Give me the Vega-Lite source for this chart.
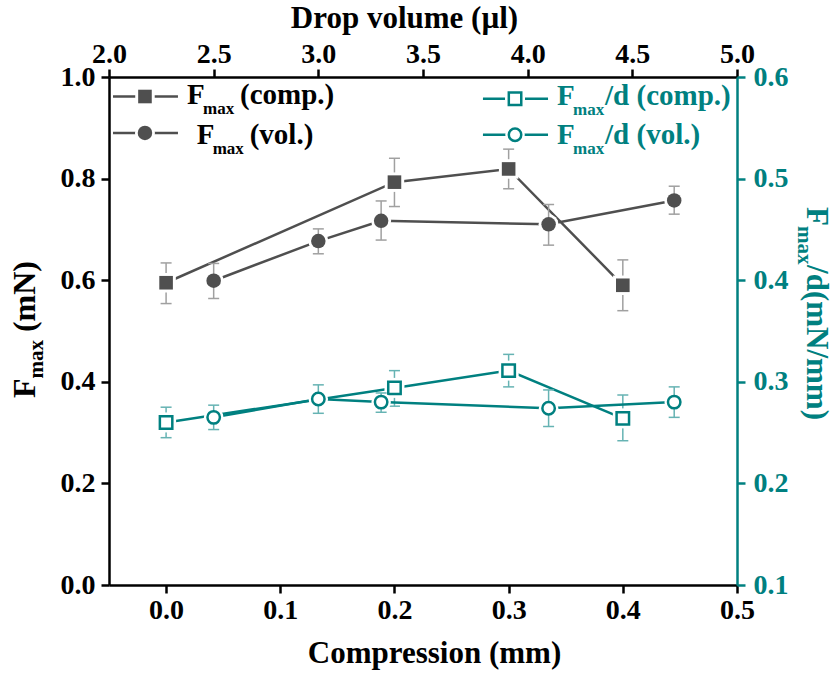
{
  "$schema": "https://vega.github.io/schema/vega-lite/v6.json",
  "width": 628,
  "height": 508,
  "autosize": "none",
  "padding": {"left": 109, "top": 77, "right": 100, "bottom": 89},
  "background": "white",
  "config": {
    "view": {"stroke": null},
    "axis": {
      "grid": false,
      "domainColor": "black", "domainWidth": 2.5,
      "tickColor": "black", "tickWidth": 2.5, "tickSize": 8,
      "labelFont": "Liberation Serif", "labelFontWeight": "bold", "labelFontSize": 28, "labelColor": "black",
      "labelFlush": false, "labelOverlap": false, "labelPadding": 3,
      "titleFont": "Liberation Serif", "titleFontWeight": "bold", "titleFontSize": 31, "titleColor": "black"
    },
    "text": {"font": "Liberation Serif", "fontWeight": "bold", "baseline": "alphabetic", "align": "left"}
  },
  "datasets": {
    "comp": [
      {"compression": 0.0, "fmax": 0.595, "fmax_lo": 0.554, "fmax_hi": 0.634, "fmaxd": 0.260, "fmaxd_lo": 0.245, "fmaxd_hi": 0.275},
      {"compression": 0.2, "fmax": 0.793, "fmax_lo": 0.745, "fmax_hi": 0.840, "fmaxd": 0.294, "fmaxd_lo": 0.276, "fmaxd_hi": 0.311},
      {"compression": 0.3, "fmax": 0.819, "fmax_lo": 0.780, "fmax_hi": 0.858, "fmaxd": 0.311, "fmaxd_lo": 0.295, "fmaxd_hi": 0.327},
      {"compression": 0.4, "fmax": 0.590, "fmax_lo": 0.540, "fmax_hi": 0.640, "fmaxd": 0.264, "fmaxd_lo": 0.242, "fmaxd_hi": 0.287}
    ],
    "vol": [
      {"volume": 2.5, "fmax": 0.599, "fmax_lo": 0.564, "fmax_hi": 0.633, "fmaxd": 0.265, "fmaxd_lo": 0.253, "fmaxd_hi": 0.277},
      {"volume": 3.0, "fmax": 0.677, "fmax_lo": 0.652, "fmax_hi": 0.701, "fmaxd": 0.283, "fmaxd_lo": 0.269, "fmaxd_hi": 0.297},
      {"volume": 3.3, "fmax": 0.717, "fmax_lo": 0.679, "fmax_hi": 0.756, "fmaxd": 0.280, "fmaxd_lo": 0.270, "fmaxd_hi": 0.289},
      {"volume": 4.1, "fmax": 0.710, "fmax_lo": 0.669, "fmax_hi": 0.749, "fmaxd": 0.274, "fmaxd_lo": 0.256, "fmaxd_hi": 0.292},
      {"volume": 4.7, "fmax": 0.757, "fmax_lo": 0.730, "fmax_hi": 0.785, "fmaxd": 0.280, "fmaxd_lo": 0.265, "fmaxd_hi": 0.295}
    ]
  },
  "layer": [
    {
      "data": {"name": "comp"},
      "layer": [
        {"mark": {"type": "rule", "color": "#a0a0a0", "strokeWidth": 1.5},
         "encoding": {"x": {"field": "compression", "type": "quantitative", "scale": {"domain": [-0.05, 0.5], "nice": false, "zero": false}, "axis": null},
                      "y": {"field": "fmax_lo", "type": "quantitative", "scale": {"domain": [0, 1], "nice": false, "zero": false}, "axis": null}, "y2": {"field": "fmax_hi"}}},
        {"mark": {"type": "tick", "orient": "horizontal", "color": "#a0a0a0", "size": 11, "thickness": 1.5, "opacity": 1},
         "encoding": {"x": {"field": "compression", "type": "quantitative", "scale": {"domain": [-0.05, 0.5], "nice": false, "zero": false}, "axis": null},
                      "y": {"field": "fmax_lo", "type": "quantitative", "scale": {"domain": [0, 1], "nice": false, "zero": false}, "axis": null}}},
        {"mark": {"type": "tick", "orient": "horizontal", "color": "#a0a0a0", "size": 11, "thickness": 1.5, "opacity": 1},
         "encoding": {"x": {"field": "compression", "type": "quantitative", "scale": {"domain": [-0.05, 0.5], "nice": false, "zero": false}, "axis": null},
                      "y": {"field": "fmax_hi", "type": "quantitative", "scale": {"domain": [0, 1], "nice": false, "zero": false}, "axis": null}}},
        {
          "encoding": {
            "x": {"field": "compression", "type": "quantitative", "scale": {"domain": [-0.05, 0.5], "nice": false, "zero": false},
                  "axis": {"orient": "bottom", "values": [0, 0.1, 0.2, 0.3, 0.4, 0.5], "format": ".1f", "title": "Compression (mm)", "titlePadding": 14, "titleX": 325}},
            "y": {"field": "fmax", "type": "quantitative", "scale": {"domain": [0, 1], "nice": false, "zero": false},
                  "axis": {"orient": "left", "values": [0, 0.2, 0.4, 0.6, 0.8, 1], "format": ".1f", "title": null, "labelPadding": 6}}
          },
          "layer": [
            {"mark": {"type": "line", "color": "#4f4f4f", "strokeWidth": 2.5}},
            {"mark": {"type": "point", "shape": "square", "filled": true, "color": "white", "opacity": 1, "size": 380}},
            {"mark": {"type": "point", "shape": "square", "filled": true, "color": "#4f4f4f", "opacity": 1, "size": 185}}
          ]
        }
      ],
      "resolve": {"axis": {"x": "independent", "y": "independent"}}
    },
    {
      "data": {"name": "vol"},
      "encoding": {
        "x": {"field": "volume", "type": "quantitative", "scale": {"domain": [2, 5], "nice": false, "zero": false},
              "axis": {"orient": "top", "values": [2, 2.5, 3, 3.5, 4, 4.5, 5], "format": ".1f", "title": "Drop volume (µl)", "titlePadding": 6, "labelPadding": 1, "titleX": 295}},
        "y": {"field": "fmax", "type": "quantitative", "scale": {"domain": [0, 1], "nice": false, "zero": false}, "axis": null}
      },
      "layer": [
        {"mark": {"type": "line", "color": "#4f4f4f", "strokeWidth": 2.5}},
        {"mark": {"type": "point", "shape": "circle", "filled": true, "color": "white", "opacity": 1, "size": 400}},
        {"mark": {"type": "rule", "color": "#a0a0a0", "strokeWidth": 1.5},
         "encoding": {"y": {"field": "fmax_lo", "type": "quantitative", "scale": {"domain": [0, 1], "nice": false, "zero": false}, "axis": null}, "y2": {"field": "fmax_hi"}}},
        {"mark": {"type": "tick", "orient": "horizontal", "color": "#a0a0a0", "size": 11, "thickness": 1.5, "opacity": 1},
         "encoding": {"y": {"field": "fmax_lo", "type": "quantitative", "scale": {"domain": [0, 1], "nice": false, "zero": false}, "axis": null}}},
        {"mark": {"type": "tick", "orient": "horizontal", "color": "#a0a0a0", "size": 11, "thickness": 1.5, "opacity": 1},
         "encoding": {"y": {"field": "fmax_hi", "type": "quantitative", "scale": {"domain": [0, 1], "nice": false, "zero": false}, "axis": null}}},
        {"mark": {"type": "point", "shape": "circle", "filled": true, "color": "#4f4f4f", "opacity": 1, "size": 210}}
      ]
    },
    {
      "data": {"name": "comp"},
      "layer": [
        {"mark": {"type": "rule", "color": "#66b3b3", "strokeWidth": 1.5},
         "encoding": {"x": {"field": "compression", "type": "quantitative", "scale": {"domain": [-0.05, 0.5], "nice": false, "zero": false}, "axis": null},
                      "y": {"field": "fmaxd_lo", "type": "quantitative", "scale": {"domain": [0.1, 0.6], "nice": false, "zero": false}, "axis": null}, "y2": {"field": "fmaxd_hi"}}},
        {"mark": {"type": "tick", "orient": "horizontal", "color": "#66b3b3", "size": 11, "thickness": 1.5, "opacity": 1},
         "encoding": {"x": {"field": "compression", "type": "quantitative", "scale": {"domain": [-0.05, 0.5], "nice": false, "zero": false}, "axis": null},
                      "y": {"field": "fmaxd_lo", "type": "quantitative", "scale": {"domain": [0.1, 0.6], "nice": false, "zero": false}, "axis": null}}},
        {"mark": {"type": "tick", "orient": "horizontal", "color": "#66b3b3", "size": 11, "thickness": 1.5, "opacity": 1},
         "encoding": {"x": {"field": "compression", "type": "quantitative", "scale": {"domain": [-0.05, 0.5], "nice": false, "zero": false}, "axis": null},
                      "y": {"field": "fmaxd_hi", "type": "quantitative", "scale": {"domain": [0.1, 0.6], "nice": false, "zero": false}, "axis": null}}},
        {
          "encoding": {
            "x": {"field": "compression", "type": "quantitative", "scale": {"domain": [-0.05, 0.5], "nice": false, "zero": false}, "axis": null},
            "y": {"field": "fmaxd", "type": "quantitative", "scale": {"domain": [0.1, 0.6], "nice": false, "zero": false},
                  "axis": {"orient": "right", "values": [0.1, 0.2, 0.3, 0.4, 0.5, 0.6], "format": ".1f", "title": null, "labelPadding": 8,
                           "domainColor": "#008080", "tickColor": "#008080", "labelColor": "#008080"}}
          },
          "layer": [
            {"mark": {"type": "line", "color": "#008080", "strokeWidth": 2.5}},
            {"mark": {"type": "point", "shape": "square", "filled": true, "color": "white", "opacity": 1, "size": 400}},
            {"mark": {"type": "point", "shape": "square", "fill": "white", "stroke": "#008080", "strokeWidth": 2.5, "opacity": 1, "size": 155}}
          ]
        }
      ],
      "resolve": {"axis": {"x": "independent", "y": "independent"}}
    },
    {
      "data": {"name": "vol"},
      "encoding": {
        "x": {"field": "volume", "type": "quantitative", "scale": {"domain": [2, 5], "nice": false, "zero": false}, "axis": null},
        "y": {"field": "fmaxd", "type": "quantitative", "scale": {"domain": [0.1, 0.6], "nice": false, "zero": false}, "axis": null}
      },
      "layer": [
        {"mark": {"type": "line", "color": "#008080", "strokeWidth": 2.5}},
        {"mark": {"type": "point", "shape": "circle", "filled": true, "color": "white", "opacity": 1, "size": 380}},
        {"mark": {"type": "rule", "color": "#66b3b3", "strokeWidth": 1.5},
         "encoding": {"y": {"field": "fmaxd_lo", "type": "quantitative", "scale": {"domain": [0.1, 0.6], "nice": false, "zero": false}, "axis": null}, "y2": {"field": "fmaxd_hi"}}},
        {"mark": {"type": "tick", "orient": "horizontal", "color": "#66b3b3", "size": 11, "thickness": 1.5, "opacity": 1},
         "encoding": {"y": {"field": "fmaxd_lo", "type": "quantitative", "scale": {"domain": [0.1, 0.6], "nice": false, "zero": false}, "axis": null}}},
        {"mark": {"type": "tick", "orient": "horizontal", "color": "#66b3b3", "size": 11, "thickness": 1.5, "opacity": 1},
         "encoding": {"y": {"field": "fmaxd_hi", "type": "quantitative", "scale": {"domain": [0.1, 0.6], "nice": false, "zero": false}, "axis": null}}},
        {"mark": {"type": "point", "shape": "circle", "fill": "white", "stroke": "#008080", "strokeWidth": 2.5, "opacity": 1, "size": 155}}
      ]
    },
    {
      "data": {"values": [{}]},
      "layer": [
        {"mark": {"type": "rule", "color": "#4f4f4f", "strokeWidth": 2.5},
         "encoding": {"x": {"datum": -0.0465, "type": "quantitative", "scale": {"domain": [-0.05, 0.5], "nice": false, "zero": false}, "axis": null}, "x2": {"datum": 0.0104},
                      "y": {"datum": 0.9616, "type": "quantitative", "scale": {"domain": [0, 1], "nice": false, "zero": false}, "axis": null}}},
        {"mark": {"type": "rule", "color": "#4f4f4f", "strokeWidth": 2.5},
         "encoding": {"x": {"datum": -0.0465, "type": "quantitative", "scale": {"domain": [-0.05, 0.5], "nice": false, "zero": false}, "axis": null}, "x2": {"datum": 0.0104},
                      "y": {"datum": 0.8898, "type": "quantitative", "scale": {"domain": [0, 1], "nice": false, "zero": false}, "axis": null}}},
        {"mark": {"type": "rule", "color": "#008080", "strokeWidth": 2.5},
         "encoding": {"x": {"datum": 0.2775, "type": "quantitative", "scale": {"domain": [-0.05, 0.5], "nice": false, "zero": false}, "axis": null}, "x2": {"datum": 0.3345},
                      "y": {"datum": 0.9573, "type": "quantitative", "scale": {"domain": [0, 1], "nice": false, "zero": false}, "axis": null}}},
        {"mark": {"type": "rule", "color": "#008080", "strokeWidth": 2.5},
         "encoding": {"x": {"datum": 0.2775, "type": "quantitative", "scale": {"domain": [-0.05, 0.5], "nice": false, "zero": false}, "axis": null}, "x2": {"datum": 0.3345},
                      "y": {"datum": 0.8864, "type": "quantitative", "scale": {"domain": [0, 1], "nice": false, "zero": false}, "axis": null}}},
        {"mark": {"type": "point", "shape": "square", "filled": true, "color": "white", "opacity": 1, "size": 380},
         "encoding": {"x": {"datum": -0.0185, "type": "quantitative", "scale": {"domain": [-0.05, 0.5], "nice": false, "zero": false}, "axis": null},
                      "y": {"datum": 0.9616, "type": "quantitative", "scale": {"domain": [0, 1], "nice": false, "zero": false}, "axis": null}}},
        {"mark": {"type": "point", "shape": "square", "filled": true, "color": "#4f4f4f", "opacity": 1, "size": 185},
         "encoding": {"x": {"datum": -0.0185, "type": "quantitative", "scale": {"domain": [-0.05, 0.5], "nice": false, "zero": false}, "axis": null},
                      "y": {"datum": 0.9616, "type": "quantitative", "scale": {"domain": [0, 1], "nice": false, "zero": false}, "axis": null}}},
        {"mark": {"type": "point", "shape": "circle", "filled": true, "color": "white", "opacity": 1, "size": 400},
         "encoding": {"x": {"datum": -0.0185, "type": "quantitative", "scale": {"domain": [-0.05, 0.5], "nice": false, "zero": false}, "axis": null},
                      "y": {"datum": 0.8898, "type": "quantitative", "scale": {"domain": [0, 1], "nice": false, "zero": false}, "axis": null}}},
        {"mark": {"type": "point", "shape": "circle", "filled": true, "color": "#4f4f4f", "opacity": 1, "size": 210},
         "encoding": {"x": {"datum": -0.0185, "type": "quantitative", "scale": {"domain": [-0.05, 0.5], "nice": false, "zero": false}, "axis": null},
                      "y": {"datum": 0.8898, "type": "quantitative", "scale": {"domain": [0, 1], "nice": false, "zero": false}, "axis": null}}},
        {"mark": {"type": "point", "shape": "square", "filled": true, "color": "white", "opacity": 1, "size": 400},
         "encoding": {"x": {"datum": 0.3056, "type": "quantitative", "scale": {"domain": [-0.05, 0.5], "nice": false, "zero": false}, "axis": null},
                      "y": {"datum": 0.9573, "type": "quantitative", "scale": {"domain": [0, 1], "nice": false, "zero": false}, "axis": null}}},
        {"mark": {"type": "point", "shape": "square", "fill": "white", "stroke": "#008080", "strokeWidth": 2.5, "opacity": 1, "size": 155},
         "encoding": {"x": {"datum": 0.3056, "type": "quantitative", "scale": {"domain": [-0.05, 0.5], "nice": false, "zero": false}, "axis": null},
                      "y": {"datum": 0.9573, "type": "quantitative", "scale": {"domain": [0, 1], "nice": false, "zero": false}, "axis": null}}},
        {"mark": {"type": "point", "shape": "circle", "filled": true, "color": "white", "opacity": 1, "size": 380},
         "encoding": {"x": {"datum": 0.3056, "type": "quantitative", "scale": {"domain": [-0.05, 0.5], "nice": false, "zero": false}, "axis": null},
                      "y": {"datum": 0.8864, "type": "quantitative", "scale": {"domain": [0, 1], "nice": false, "zero": false}, "axis": null}}},
        {"mark": {"type": "point", "shape": "circle", "fill": "white", "stroke": "#008080", "strokeWidth": 2.5, "opacity": 1, "size": 155},
         "encoding": {"x": {"datum": 0.3056, "type": "quantitative", "scale": {"domain": [-0.05, 0.5], "nice": false, "zero": false}, "axis": null},
                      "y": {"datum": 0.8864, "type": "quantitative", "scale": {"domain": [0, 1], "nice": false, "zero": false}, "axis": null}}},

        {"mark": {"type": "text", "text": "F", "fontSize": 29, "color": "black"},
         "encoding": {"x": {"datum": 0.0183, "type": "quantitative", "scale": {"domain": [-0.05, 0.5], "nice": false, "zero": false}, "axis": null},
                      "y": {"datum": 0.9469, "type": "quantitative", "scale": {"domain": [0, 1], "nice": false, "zero": false}, "axis": null}}},
        {"mark": {"type": "text", "text": "max", "fontSize": 17, "dx": 16, "dy": 10, "color": "black"},
         "encoding": {"x": {"datum": 0.0183, "type": "quantitative", "scale": {"domain": [-0.05, 0.5], "nice": false, "zero": false}, "axis": null},
                      "y": {"datum": 0.9469, "type": "quantitative", "scale": {"domain": [0, 1], "nice": false, "zero": false}, "axis": null}}},
        {"mark": {"type": "text", "text": "(comp.)", "fontSize": 29, "dx": 53, "color": "black"},
         "encoding": {"x": {"datum": 0.0183, "type": "quantitative", "scale": {"domain": [-0.05, 0.5], "nice": false, "zero": false}, "axis": null},
                      "y": {"datum": 0.9469, "type": "quantitative", "scale": {"domain": [0, 1], "nice": false, "zero": false}, "axis": null}}},
        {"mark": {"type": "text", "text": "F", "fontSize": 29, "color": "black"},
         "encoding": {"x": {"datum": 0.0268, "type": "quantitative", "scale": {"domain": [-0.05, 0.5], "nice": false, "zero": false}, "axis": null},
                      "y": {"datum": 0.868, "type": "quantitative", "scale": {"domain": [0, 1], "nice": false, "zero": false}, "axis": null}}},
        {"mark": {"type": "text", "text": "max", "fontSize": 17, "dx": 16, "dy": 10, "color": "black"},
         "encoding": {"x": {"datum": 0.0268, "type": "quantitative", "scale": {"domain": [-0.05, 0.5], "nice": false, "zero": false}, "axis": null},
                      "y": {"datum": 0.868, "type": "quantitative", "scale": {"domain": [0, 1], "nice": false, "zero": false}, "axis": null}}},
        {"mark": {"type": "text", "text": "(vol.)", "fontSize": 29, "dx": 53, "color": "black"},
         "encoding": {"x": {"datum": 0.0268, "type": "quantitative", "scale": {"domain": [-0.05, 0.5], "nice": false, "zero": false}, "axis": null},
                      "y": {"datum": 0.868, "type": "quantitative", "scale": {"domain": [0, 1], "nice": false, "zero": false}, "axis": null}}},

        {"mark": {"type": "text", "text": "F", "fontSize": 29, "color": "#008080"},
         "encoding": {"x": {"datum": 0.3424, "type": "quantitative", "scale": {"domain": [-0.05, 0.5], "nice": false, "zero": false}, "axis": null},
                      "y": {"datum": 0.945, "type": "quantitative", "scale": {"domain": [0, 1], "nice": false, "zero": false}, "axis": null}}},
        {"mark": {"type": "text", "text": "max", "fontSize": 17, "dx": 16, "dy": 10, "color": "#008080"},
         "encoding": {"x": {"datum": 0.3424, "type": "quantitative", "scale": {"domain": [-0.05, 0.5], "nice": false, "zero": false}, "axis": null},
                      "y": {"datum": 0.945, "type": "quantitative", "scale": {"domain": [0, 1], "nice": false, "zero": false}, "axis": null}}},
        {"mark": {"type": "text", "text": "/d (comp.)", "fontSize": 29, "dx": 48, "color": "#008080"},
         "encoding": {"x": {"datum": 0.3424, "type": "quantitative", "scale": {"domain": [-0.05, 0.5], "nice": false, "zero": false}, "axis": null},
                      "y": {"datum": 0.945, "type": "quantitative", "scale": {"domain": [0, 1], "nice": false, "zero": false}, "axis": null}}},
        {"mark": {"type": "text", "text": "F", "fontSize": 29, "color": "#008080"},
         "encoding": {"x": {"datum": 0.3424, "type": "quantitative", "scale": {"domain": [-0.05, 0.5], "nice": false, "zero": false}, "axis": null},
                      "y": {"datum": 0.868, "type": "quantitative", "scale": {"domain": [0, 1], "nice": false, "zero": false}, "axis": null}}},
        {"mark": {"type": "text", "text": "max", "fontSize": 17, "dx": 16, "dy": 10, "color": "#008080"},
         "encoding": {"x": {"datum": 0.3424, "type": "quantitative", "scale": {"domain": [-0.05, 0.5], "nice": false, "zero": false}, "axis": null},
                      "y": {"datum": 0.868, "type": "quantitative", "scale": {"domain": [0, 1], "nice": false, "zero": false}, "axis": null}}},
        {"mark": {"type": "text", "text": "/d (vol.)", "fontSize": 29, "dx": 48, "color": "#008080"},
         "encoding": {"x": {"datum": 0.3424, "type": "quantitative", "scale": {"domain": [-0.05, 0.5], "nice": false, "zero": false}, "axis": null},
                      "y": {"datum": 0.868, "type": "quantitative", "scale": {"domain": [0, 1], "nice": false, "zero": false}, "axis": null}}},

        {"mark": {"type": "text", "text": "F", "fontSize": 32, "angle": 270, "color": "black"},
         "encoding": {"x": {"datum": -0.1148, "type": "quantitative", "scale": {"domain": [-0.05, 0.5], "nice": false, "zero": false}, "axis": null},
                      "y": {"datum": 0.368, "type": "quantitative", "scale": {"domain": [0, 1], "nice": false, "zero": false}, "axis": null}}},
        {"mark": {"type": "text", "text": "max", "fontSize": 21, "angle": 270, "dx": 19.5, "dy": 8, "color": "black"},
         "encoding": {"x": {"datum": -0.1148, "type": "quantitative", "scale": {"domain": [-0.05, 0.5], "nice": false, "zero": false}, "axis": null},
                      "y": {"datum": 0.368, "type": "quantitative", "scale": {"domain": [0, 1], "nice": false, "zero": false}, "axis": null}}},
        {"mark": {"type": "text", "text": "(mN)", "fontSize": 32, "angle": 270, "dx": 66, "color": "black"},
         "encoding": {"x": {"datum": -0.1148, "type": "quantitative", "scale": {"domain": [-0.05, 0.5], "nice": false, "zero": false}, "axis": null},
                      "y": {"datum": 0.368, "type": "quantitative", "scale": {"domain": [0, 1], "nice": false, "zero": false}, "axis": null}}},

        {"mark": {"type": "text", "text": "F", "fontSize": 31, "angle": 90, "color": "#008080"},
         "encoding": {"x": {"datum": 0.5612, "type": "quantitative", "scale": {"domain": [-0.05, 0.5], "nice": false, "zero": false}, "axis": null},
                      "y": {"datum": 0.744, "type": "quantitative", "scale": {"domain": [0, 1], "nice": false, "zero": false}, "axis": null}}},
        {"mark": {"type": "text", "text": "max", "fontSize": 21, "angle": 90, "dx": 19, "dy": 9, "color": "#008080"},
         "encoding": {"x": {"datum": 0.5612, "type": "quantitative", "scale": {"domain": [-0.05, 0.5], "nice": false, "zero": false}, "axis": null},
                      "y": {"datum": 0.744, "type": "quantitative", "scale": {"domain": [0, 1], "nice": false, "zero": false}, "axis": null}}},
        {"mark": {"type": "text", "text": "/d(mN/mm)", "fontSize": 31, "angle": 90, "dx": 58, "color": "#008080"},
         "encoding": {"x": {"datum": 0.5612, "type": "quantitative", "scale": {"domain": [-0.05, 0.5], "nice": false, "zero": false}, "axis": null},
                      "y": {"datum": 0.744, "type": "quantitative", "scale": {"domain": [0, 1], "nice": false, "zero": false}, "axis": null}}}
      ]
    }
  ],
  "resolve": {"scale": {"x": "independent", "y": "independent"}}
}
